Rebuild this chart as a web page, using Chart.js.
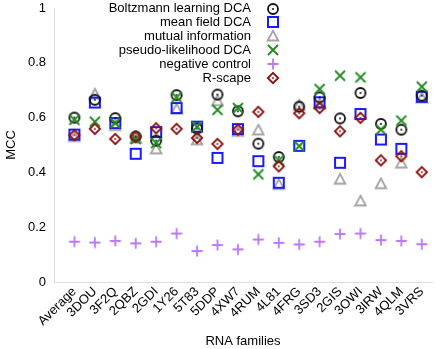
<!DOCTYPE html>
<html>
<head>
<meta charset="utf-8">
<script src="https://cdn.jsdelivr.net/npm/chart.js@4/dist/chart.umd.min.js"></script>
<style>
  html, body { margin: 0; padding: 0; background: #fff; }
  #c { display: block; }
</style>
</head>
<body>
<canvas id="c" width="440" height="349"></canvas>
<script>
const categories = ['Average','3DOU','3F2Q','2QBZ','2GDI','1Y26','5T83','5DDP','4XW7','4RUM','4L81','4FRG','3SD3','2GIS','3OWI','3IRW','4QLM','3VRS'];
const yTicks = [0, 0.2, 0.4, 0.6, 0.8, 1];

const boltzmann  = [0.600,0.665,0.598,0.531,0.516,0.682,0.560,0.684,0.623,0.505,0.456,0.640,0.674,0.597,0.690,0.577,0.556,0.680];
const meanField  = [0.538,0.655,0.580,0.468,0.547,0.635,0.567,0.453,0.558,0.441,0.362,0.497,0.656,0.435,0.613,0.520,0.486,0.676];
const mutualInfo = [0.531,0.686,0.571,0.525,0.486,0.631,0.519,0.662,0.550,0.555,0.356,0.645,0.650,0.375,0.296,0.359,0.434,0.672];
const plmDCA     = [0.592,0.585,0.580,0.522,0.507,0.674,0.567,0.628,0.635,0.393,0.444,0.496,0.704,0.753,0.747,0.556,0.589,0.713];
const negControl = [0.147,0.144,0.150,0.141,0.147,0.177,0.113,0.135,0.119,0.155,0.143,0.137,0.147,0.175,0.177,0.153,0.150,0.138];
const rscape     = [0.536,0.559,0.522,0.531,0.561,0.559,0.526,0.504,0.556,0.621,0.422,0.616,0.635,0.550,0.599,0.444,0.459,0.401];

const FONT = '"Liberation Sans", Arial, sans-serif';

function makeMarker(type, color) {
  const s = 14, c = 7;
  const cv = document.createElement('canvas');
  cv.width = s; cv.height = s;
  const g = cv.getContext('2d');
  g.strokeStyle = color; g.fillStyle = color; g.lineWidth = 1.8;
  g.beginPath();
  if (type === 'circleDot') {
    g.arc(c, c, 5, 0, Math.PI * 2); g.stroke();
    g.beginPath(); g.arc(c, c, 1, 0, Math.PI * 2); g.fill();
  } else if (type === 'square') {
    g.lineWidth = 2;
    g.strokeRect(2, 2, 10, 10);
  } else if (type === 'triangle') {
    g.moveTo(c, 1.8); g.lineTo(12.3, 11.5); g.lineTo(1.7, 11.5); g.closePath(); g.stroke();
  } else if (type === 'x') {
    g.moveTo(2, 2); g.lineTo(12, 12); g.moveTo(12, 2); g.lineTo(2, 12); g.stroke();
  } else if (type === 'plus') {
    g.moveTo(c, 1.5); g.lineTo(c, 12.5); g.moveTo(1.5, c); g.lineTo(12.5, c); g.stroke();
  } else if (type === 'diamondDot') {
    g.moveTo(c, 1.8); g.lineTo(12.2, c); g.lineTo(c, 12.2); g.lineTo(1.8, c); g.closePath(); g.stroke();
    g.beginPath(); g.arc(c, c, 0.9, 0, Math.PI * 2); g.fill();
  }
  return cv;
}

const series = [
  { label: 'Boltzmann learning DCA', data: boltzmann,  marker: makeMarker('circleDot', '#111111'), order: 2 },
  { label: 'mean field DCA',         data: meanField,  marker: makeMarker('square', '#1a1aff'),     order: 3 },
  { label: 'mutual information',     data: mutualInfo, marker: makeMarker('triangle', '#a3a3a3'),   order: 4 },
  { label: 'pseudo-likelihood DCA',  data: plmDCA,     marker: makeMarker('x', '#1e8c1e'),          order: 1 },
  { label: 'negative control',       data: negControl, marker: makeMarker('plus', '#bb77ff'),       order: 5 },
  { label: 'R-scape',                data: rscape,     marker: makeMarker('diamondDot', '#8f0d0d'), order: 0 }
];

const legendPlugin = {
  id: 'customLegend',
  afterDraw(chart) {
    const ctx = chart.ctx;
    ctx.save();
    ctx.font = '13px ' + FONT;
    ctx.fillStyle = '#000';
    ctx.textAlign = 'right';
    ctx.textBaseline = 'middle';
    chart.data.datasets.forEach((ds, i) => {
      const y = 8.5 + 13.9 * i;
      ctx.fillText(ds.label, 251, y);
      ctx.drawImage(ds.pointStyle, 273 - 7, Math.round(y) - 7);
    });
    ctx.restore();
  }
};

new Chart(document.getElementById('c'), {
  type: 'scatter',
  data: {
    datasets: series.map(s => ({
      label: s.label,
      data: s.data.map((v, i) => ({ x: i, y: v })),
      pointStyle: s.marker,
      pointRadius: 7,
      order: s.order,
      showLine: false
    }))
  },
  options: {
    responsive: false,
    animation: false,
    layout: { padding: { top: 0, right: 0, left: 0, bottom: 0 } },
    plugins: { legend: { display: false }, tooltip: { enabled: false } },
    scales: {
      x: {
        type: 'linear',
        min: -1, max: 17.5,
        afterBuildTicks: (scale) => { scale.ticks = categories.map((c, i) => ({ value: i })); },
        afterFit: (scale) => { scale.height = 67; },
        ticks: {
          autoSkip: false, minRotation: 45, maxRotation: 45, padding: 2,
          color: '#000', font: { family: FONT, size: 13 },
          callback: (v) => categories[v] !== undefined ? categories[v] : ''
        },
        grid: { display: false, drawTicks: false },
        border: { display: true, color: '#dddddd', width: 1 },
        title: { display: true, text: 'RNA families', color: '#000', font: { family: FONT, size: 13 }, padding: { top: 2, bottom: 0 } }
      },
      y: {
        min: 0, max: 1,
        afterBuildTicks: (scale) => { scale.ticks = yTicks.map(v => ({ value: v })); },
        afterFit: (scale) => { scale.width = 54; scale.paddingTop = 7; },
        ticks: {
          padding: 8, color: '#000', font: { family: FONT, size: 13 },
          callback: (v) => String(v)
        },
        grid: { display: false, drawTicks: false },
        border: { display: true, color: '#dddddd', width: 1 },
        title: { display: true, text: 'MCC', color: '#000', font: { family: FONT, size: 13 }, padding: { top: 4, bottom: 0 } }
      }
    }
  },
  plugins: [legendPlugin]
});
</script>
</body>
</html>
